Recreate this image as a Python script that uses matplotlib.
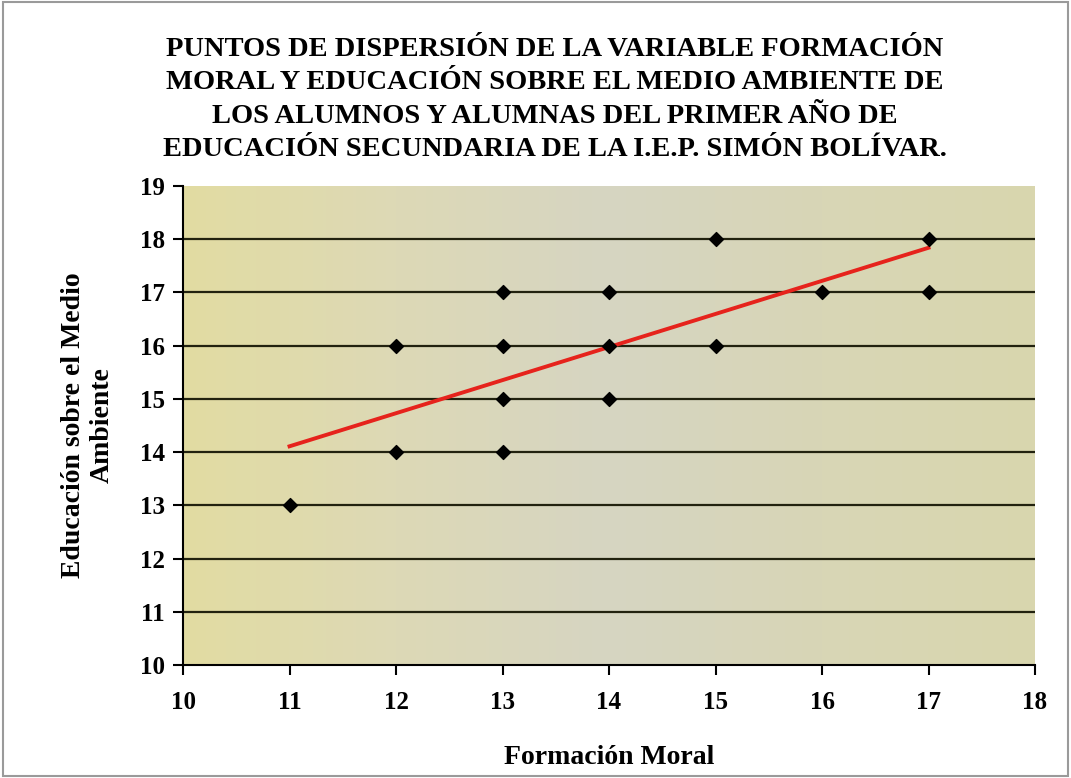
import numpy as np
import matplotlib.pyplot as plt
from matplotlib.colors import LinearSegmentedColormap
from matplotlib.patches import Rectangle

# datos
formacion_moral = [11, 12, 12, 13, 13, 13, 13, 14, 14, 14, 15, 15, 16, 17, 17]
educacion_ambiente = [13, 14, 16, 14, 15, 16, 17, 15, 16, 17, 16, 18, 17, 17, 18]
x_ticks = [10, 11, 12, 13, 14, 15, 16, 17, 18]
y_ticks = [10, 11, 12, 13, 14, 15, 16, 17, 18, 19]

titulo = ("PUNTOS DE DISPERSIÓN DE LA VARIABLE FORMACIÓN\n"
          "MORAL Y EDUCACIÓN SOBRE EL MEDIO AMBIENTE DE\n"
          "LOS ALUMNOS Y ALUMNAS DEL PRIMER AÑO DE\n"
          "EDUCACIÓN SECUNDARIA DE LA I.E.P. SIMÓN BOLÍVAR.")

plt.rcParams['font.family'] = ['Liberation Serif', 'DejaVu Serif']

fig = plt.figure(figsize=(10.71, 7.78), dpi=100)
fig.patch.set_facecolor('white')
fig.patches.append(Rectangle((0.003, 0.003), 0.994, 0.994, transform=fig.transFigure,
                             fill=False, edgecolor='#9a9a9a', lw=1.5))

ax = fig.add_axes([0.1709, 0.1452, 0.7955, 0.6157])

# fondo degradado tipo Excel
cmap = LinearSegmentedColormap.from_list('fondo', ['#e2dca2', '#ddd9b6', '#d6d5c2', '#d8d6b6', '#d9d6ae'])
ax.imshow(np.linspace(0, 1, 256).reshape(1, -1), cmap=cmap, aspect='auto',
          extent=[0, 1, 0, 1], transform=ax.transAxes, zorder=0)

for yv in y_ticks[1:-1]:
    ax.axhline(yv, color='#22220f', lw=1.6, zorder=1)

# linea de tendencia
pend, corte = np.polyfit(formacion_moral, educacion_ambiente, 1)
xs = np.array([min(formacion_moral), max(formacion_moral)])
ax.plot(xs, pend * xs + corte, color='#e6231c', lw=2.8, zorder=2)

ax.scatter(formacion_moral, educacion_ambiente, marker='D', s=50, color='black', zorder=3)

ax.set_xlim(10, 18)
ax.set_ylim(10, 19)
ax.set_xticks(x_ticks)
ax.set_yticks(y_ticks)
ax.tick_params(labelsize=18, length=7, width=1.5, direction='out')
ax.tick_params(axis='x', pad=12)
ax.tick_params(axis='y', pad=6)
for lab in ax.get_xticklabels() + ax.get_yticklabels():
    lab.set_fontweight('bold')
for s in ['top', 'right']:
    ax.spines[s].set_visible(False)
for s in ['left', 'bottom']:
    ax.spines[s].set_linewidth(1.5)

ax.set_xlabel('Formación Moral', fontsize=20, fontweight='bold', labelpad=22)
ax.set_ylabel('Educación sobre el Medio\nAmbiente', fontsize=20, fontweight='bold', labelpad=18)

fig.text(0.518, 0.953, titulo, ha='center', va='top', fontsize=20.5,
         fontweight='bold', linespacing=1.45)

fig.savefig('out.png', dpi=100)
